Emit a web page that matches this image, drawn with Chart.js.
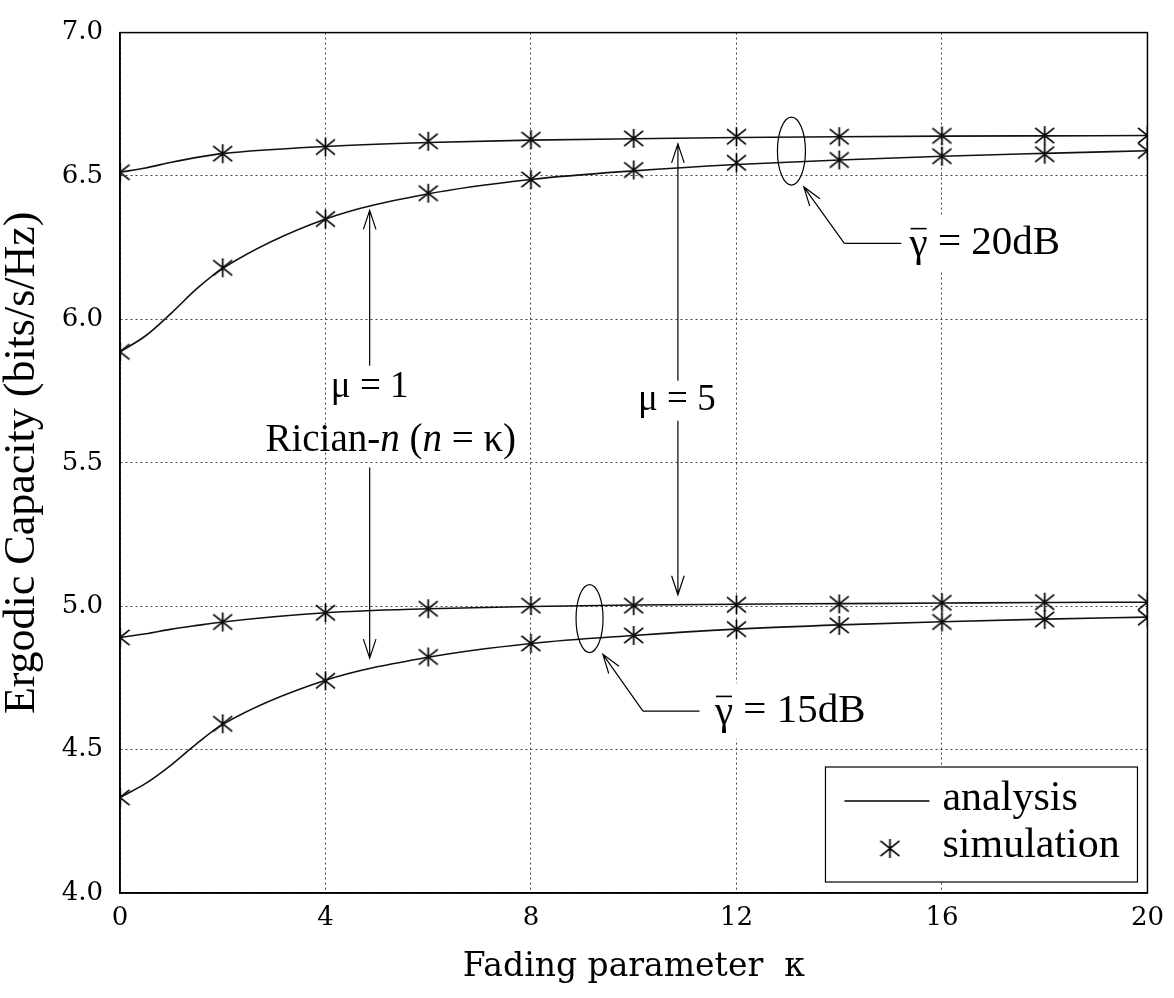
<!DOCTYPE html>
<html lang="en">
<head>
  <meta charset="UTF-8" />
  <title>Ergodic Capacity vs Fading parameter</title>
  <script src="https://cdn.jsdelivr.net/npm/chart.js"></script>
  <style>
    body { margin: 0; background: #fff; }
    .chart-box { width: 1174px; height: 998px; }
  </style>
</head>
<body>
  <div class="chart-box"><canvas id="capChart"></canvas></div>

<script>
  // simulation points (asterisks)
  const simKappa = [0, 2, 4, 6, 8, 10, 12, 14, 16, 18, 20];
  const simMu5_20dB = [6.513, 6.578, 6.601, 6.621, 6.627, 6.631, 6.637, 6.637, 6.640, 6.641, 6.641];
  const simMu1_20dB = [5.887, 6.180, 6.350, 6.440, 6.488, 6.521, 6.546, 6.556, 6.569, 6.576, 6.588];
  const simMu5_15dB = [4.891, 4.945, 4.977, 4.991, 5.002, 5.002, 5.005, 5.008, 5.012, 5.014, 5.014];
  const simMu1_15dB = [4.333, 4.590, 4.740, 4.823, 4.870, 4.898, 4.920, 4.933, 4.945, 4.954, 4.960];

  // analysis curves (solid lines)
  const anaKappa = [0, 0.5, 1, 1.5, 2, 4, 6, 8, 10, 12, 14, 16, 18, 20];
  const anaMu5_20dB = [6.513, 6.528, 6.548, 6.565, 6.578, 6.603, 6.617, 6.625, 6.630, 6.634, 6.637, 6.639, 6.640, 6.641];
  const anaMu1_20dB = [5.887, 5.943, 6.022, 6.108, 6.178, 6.350, 6.438, 6.488, 6.518, 6.540, 6.556, 6.569, 6.579, 6.588];
  const anaMu5_15dB = [4.891, 4.904, 4.920, 4.933, 4.945, 4.977, 4.991, 4.999, 5.004, 5.007, 5.009, 5.011, 5.013, 5.014];
  const anaMu1_15dB = [4.333, 4.382, 4.447, 4.522, 4.588, 4.742, 4.822, 4.870, 4.898, 4.920, 4.935, 4.946, 4.955, 4.962];

  const xTitle = 'Fading parameter  \u03ba';
  const yTitle = 'Ergodic Capacity (bits/s/Hz)';

  // asterisk marker: X plus a vertical stroke
  function makeStar(size) {
    const c = document.createElement('canvas');
    c.width = size; c.height = size;
    const g = c.getContext('2d');
    g.strokeStyle = '#000';
    g.lineWidth = 1.7;
    const m = size / 2, r = size / 2 - 1;
    g.beginPath();
    g.moveTo(m, 1); g.lineTo(m, size - 1);
    g.moveTo(m - r, m - r * 0.8); g.lineTo(m + r, m + r * 0.8);
    g.moveTo(m + r, m - r * 0.8); g.lineTo(m - r, m + r * 0.8);
    g.stroke();
    return c;
  }
  const star = makeStar(21);

  const pts = (xs, ys) => xs.map((x, i) => ({ x: x, y: ys[i] }));

  function lineSet(ys) {
    return {
      data: pts(anaKappa, ys), showLine: true, pointRadius: 0,
      borderColor: '#111', borderWidth: 1.6, cubicInterpolationMode: 'monotone'
    };
  }
  function simSet(ys) {
    return {
      data: pts(simKappa, ys), showLine: false, pointStyle: star, pointRadius: 10
    };
  }

  // open "V" arrow head at (x2, y2)
  function arrow(ctx, x1, y1, x2, y2) {
    const a = Math.atan2(y2 - y1, x2 - x1), L = 20, w = 0.32;
    ctx.beginPath();
    ctx.moveTo(x1, y1); ctx.lineTo(x2, y2);
    ctx.moveTo(x2 - L * Math.cos(a - w), y2 - L * Math.sin(a - w));
    ctx.lineTo(x2, y2);
    ctx.lineTo(x2 - L * Math.cos(a + w), y2 - L * Math.sin(a + w));
    ctx.stroke();
  }

  // text made of plain / italic runs, centred on (cx, cy)
  function runs(ctx, parts, cx, cy, size) {
    let total = 0;
    parts.forEach(p => {
      ctx.font = (p[1] ? 'italic ' : '') + size + 'px "Liberation Serif"';
      p.w = ctx.measureText(p[0]).width;
      total += p.w;
    });
    let x = cx - total / 2;
    ctx.textAlign = 'left';
    ctx.textBaseline = 'middle';
    parts.forEach(p => {
      ctx.font = (p[1] ? 'italic ' : '') + size + 'px "Liberation Serif"';
      ctx.fillText(p[0], x, cy);
      x += p.w;
    });
  }

  function gammaLabel(ctx, rest, left, cy, size) {
    ctx.font = size + 'px "Liberation Serif"';
    ctx.textAlign = 'left';
    ctx.textBaseline = 'middle';
    const gw = ctx.measureText('\u03b3').width;
    const tw = ctx.measureText(rest).width;
    ctx.fillStyle = '#fff';
    ctx.fillRect(left - 6, cy - 28, gw + tw + 12, 56);
    ctx.fillStyle = '#000';
    ctx.fillText('\u03b3', left, cy + 2);
    ctx.fillText(rest, left + gw, cy);
    ctx.lineWidth = 1.6;
    ctx.beginPath();
    ctx.moveTo(left + 1, cy - size * 0.36);
    ctx.lineTo(left + gw - 1, cy - size * 0.36);
    ctx.stroke();
  }

  const decor = {
    id: 'decor',
    afterDatasetsDraw(chart) {
      const { ctx, chartArea: ca, scales: { x, y } } = chart;
      const px = v => x.getPixelForValue(v), py = v => y.getPixelForValue(v);
      ctx.save();
      ctx.strokeStyle = '#000';
      ctx.fillStyle = '#000';
      ctx.lineWidth = 1.2;

      // mu arrows
      arrow(ctx, px(4.86), py(5.838), px(4.86), py(6.38));
      arrow(ctx, px(4.86), py(5.484), px(4.86), py(4.819));
      arrow(ctx, px(10.86), py(5.786), px(10.86), py(6.612));
      arrow(ctx, px(10.86), py(5.647), px(10.86), py(5.04));

      runs(ctx, [['\u03bc = 1', false]], px(4.86), py(5.762), 37);
      runs(ctx, [['Rician-', false], ['n', true], [' (', false], ['n', true], [' = \u03ba)', false]],
        px(5.27), py(5.578), 39);
      runs(ctx, [['\u03bc = 5', false]], px(10.84), py(5.717), 37);

      // ellipses around curve pairs
      ctx.beginPath();
      ctx.ellipse(px(13.07), py(6.587), 14, 34, 0, 0, Math.PI * 2);
      ctx.stroke();
      ctx.beginPath();
      ctx.ellipse(px(9.14), py(4.957), 13.5, 34, 0, 0, Math.PI * 2);
      ctx.stroke();

      // leaders + labels
      ctx.beginPath();
      ctx.moveTo(px(15.21), py(6.265)); ctx.lineTo(px(14.10), py(6.265));
      ctx.stroke();
      arrow(ctx, px(14.10), py(6.265), px(13.31), py(6.462));
      gammaLabel(ctx, ' = 20dB', px(15.37), py(6.265), 41);

      ctx.lineWidth = 1.2;
      ctx.beginPath();
      ctx.moveTo(px(11.28), py(4.634)); ctx.lineTo(px(10.18), py(4.634));
      ctx.stroke();
      arrow(ctx, px(10.18), py(4.634), px(9.40), py(4.832));
      gammaLabel(ctx, ' = 15dB', px(11.58), py(4.634), 41);

      // legend box
      const bl = ca.right - 322, bt = ca.bottom - 126;
      ctx.fillStyle = '#fff';
      ctx.fillRect(bl, bt, 312, 115);
      ctx.lineWidth = 1.2;
      ctx.strokeRect(bl, bt, 312, 115);
      ctx.beginPath();
      ctx.moveTo(ca.right - 303, ca.bottom - 92);
      ctx.lineTo(ca.right - 218, ca.bottom - 92);
      ctx.lineWidth = 1.5;
      ctx.stroke();
      ctx.drawImage(star, ca.right - 258 - 10, ca.bottom - 45 - 10);
      ctx.fillStyle = '#000';
      ctx.font = '42px "Liberation Serif"';
      ctx.textAlign = 'left';
      ctx.textBaseline = 'middle';
      ctx.fillText('analysis', ca.right - 205, ca.bottom - 94);
      ctx.fillText('simulation', ca.right - 205, ca.bottom - 47);

      // plot frame
      ctx.lineWidth = 1.5;
      ctx.strokeRect(ca.left, ca.top, ca.width, ca.height);
      ctx.restore();
    }
  };

  new Chart(document.getElementById('capChart'), {
    type: 'scatter',
    data: {
      datasets: [
        lineSet(anaMu5_20dB), lineSet(anaMu1_20dB), lineSet(anaMu5_15dB), lineSet(anaMu1_15dB),
        simSet(simMu5_20dB), simSet(simMu1_20dB), simSet(simMu5_15dB), simSet(simMu1_15dB)
      ]
    },
    options: {
      responsive: true,
      maintainAspectRatio: false,
      devicePixelRatio: 1,
      animation: false,
      layout: { padding: { top: 28, right: 26, left: 0, bottom: 0 } },
      plugins: { legend: { display: false }, tooltip: { enabled: false } },
      scales: {
        x: {
          type: 'linear', min: 0, max: 20,
          afterFit: s => { s.height = 105; },
          ticks: { stepSize: 4, padding: 10, color: '#000', font: { family: 'DejaVu Serif', size: 26 } },
          grid: { color: '#444', lineWidth: 1, drawTicks: false },
          border: { display: true, color: '#000', width: 1.5, dash: [2, 3] },
          title: {
            display: true, text: xTitle, color: '#000',
            font: { family: 'DejaVu Serif', size: 33, lineHeight: 1.2 },
            padding: { top: 0, bottom: 11 }
          }
        },
        y: {
          type: 'linear', min: 4, max: 7,
          afterFit: s => { s.width = 120; },
          ticks: {
            stepSize: 0.5, padding: 17, color: '#000',
            font: { family: 'DejaVu Serif', size: 26 },
            callback: v => v.toFixed(1)
          },
          grid: { color: '#444', lineWidth: 1, drawTicks: false },
          border: { display: true, color: '#000', width: 1.5, dash: [2, 3] },
          title: {
            display: true, text: yTitle, color: '#000',
            font: { family: 'Liberation Serif', size: 44, lineHeight: 1.0 },
            padding: { top: 0, bottom: 0 }
          }
        }
      }
    },
    plugins: [decor]
  });
</script>
</body>
</html>
